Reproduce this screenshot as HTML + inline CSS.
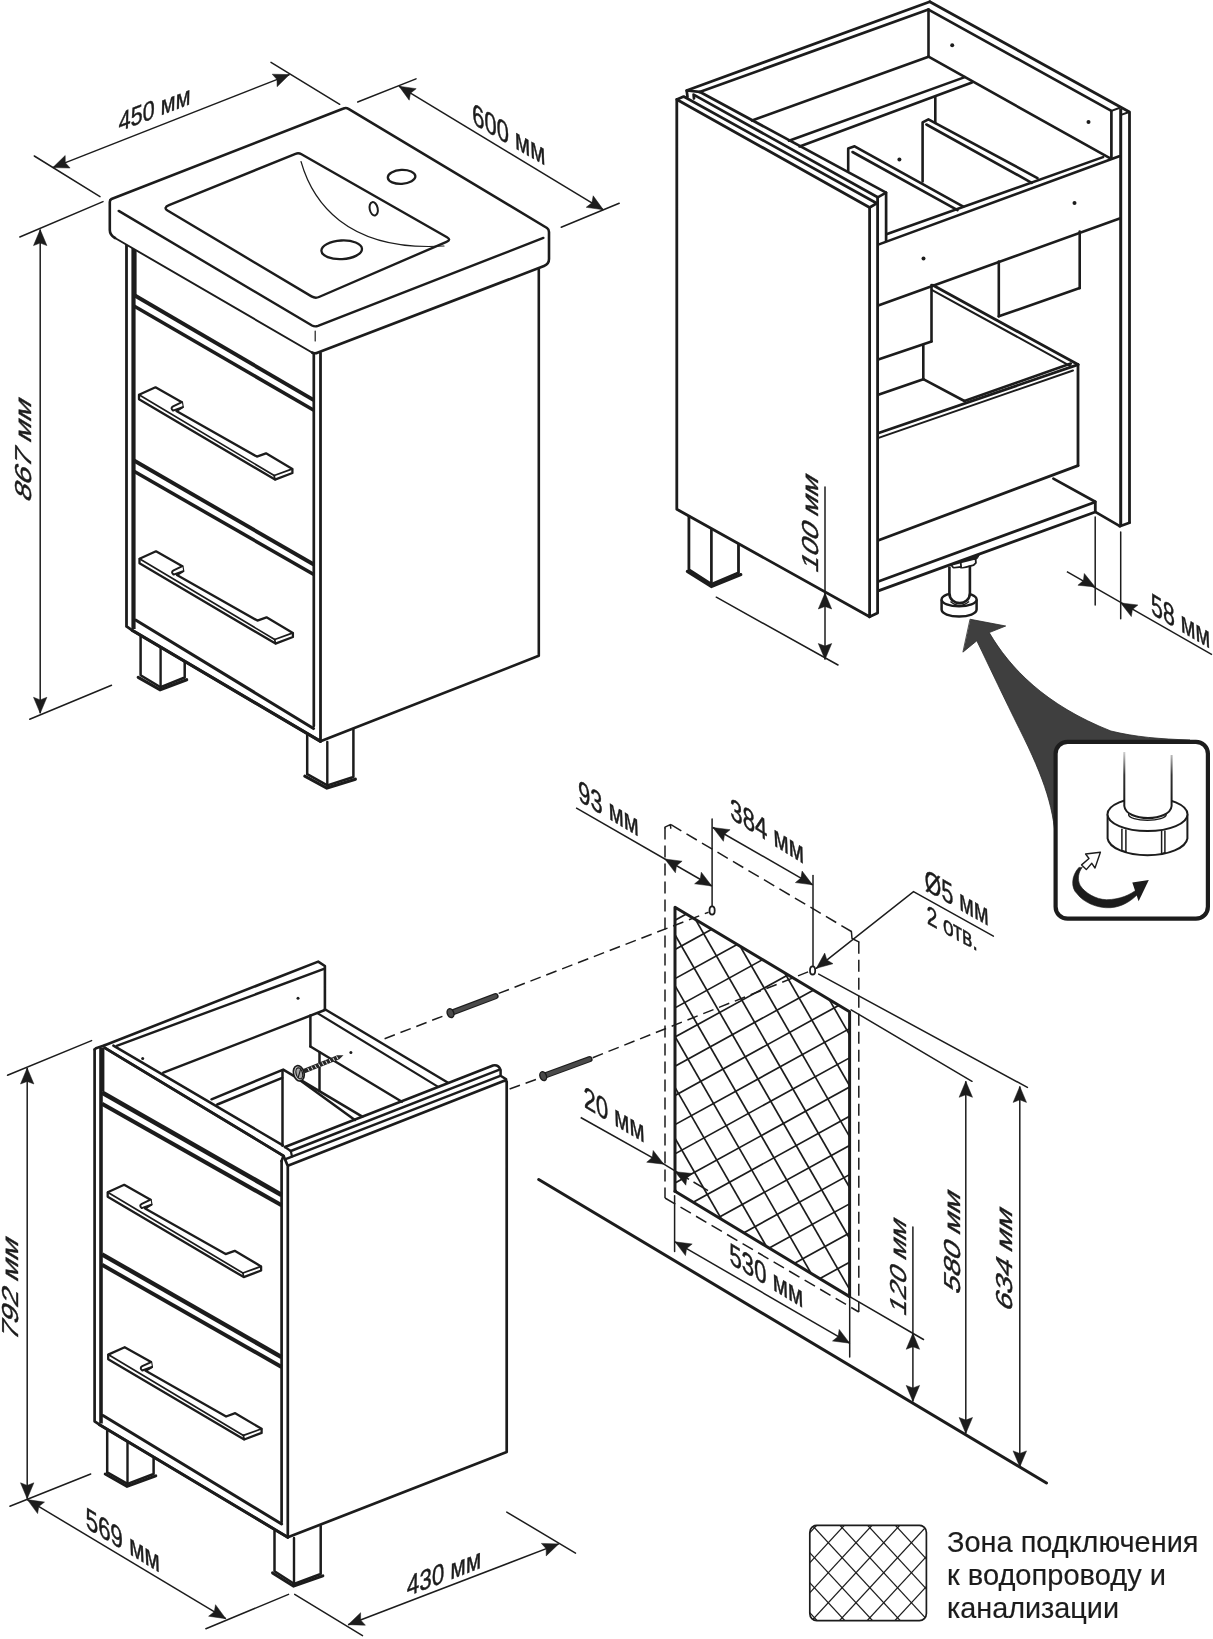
<!DOCTYPE html>
<html lang="ru"><head><meta charset="utf-8"><title>Схема монтажа тумбы</title>
<style>
html,body{margin:0;padding:0;background:#fff}
svg{display:block}
text{font-family:"Liberation Sans",sans-serif;stroke:#1c1c1c;stroke-width:0.4px}
svg{filter:grayscale(1)}
</style></head><body>
<svg width="1213" height="1639" viewBox="0 0 1213 1639">
<rect width="1213" height="1639" fill="#fff"/>
<polyline points="538.8,268 538.8,655.8 320.5,741.3" fill="none" stroke="#1c1c1c" stroke-width="2.6" stroke-linejoin="round" stroke-linecap="round"/>
<polyline points="140.6,636 140.6,675.3 160.6,687.2 184.7,677.5 184.7,662" fill="none" stroke="#1c1c1c" stroke-width="2.5" stroke-linejoin="round" stroke-linecap="round"/>
<line x1="160.6" y1="648" x2="160.6" y2="687.2" stroke="#1c1c1c" stroke-width="2.4" stroke-linecap="round"/>
<polyline points="138.2,677.3 160.1,689.8 186.7,679.7" fill="none" stroke="#1c1c1c" stroke-width="3.1" stroke-linejoin="miter" stroke-linecap="round"/>
<polyline points="307.2,735 307.2,774.2 327.3,785.4 353.4,777 353.4,729" fill="none" stroke="#1c1c1c" stroke-width="2.5" stroke-linejoin="round" stroke-linecap="round"/>
<line x1="327.3" y1="742" x2="327.3" y2="785.4" stroke="#1c1c1c" stroke-width="2.4" stroke-linecap="round"/>
<polyline points="304.8,776.2 326.8,788 355.4,779.2" fill="none" stroke="#1c1c1c" stroke-width="3.1" stroke-linejoin="miter" stroke-linecap="round"/>
<polyline points="126.5,244 126.5,626.4 132.3,630.4 320.5,741.3 320.5,353" fill="none" stroke="#1c1c1c" stroke-width="2.8" stroke-linejoin="round" stroke-linecap="round"/>
<line x1="134" y1="246" x2="134" y2="296" stroke="#1c1c1c" stroke-width="5.2" stroke-linecap="butt"/>
<line x1="133.5" y1="296" x2="133.5" y2="629" stroke="#1c1c1c" stroke-width="4.2" stroke-linecap="butt"/>
<line x1="313.8" y1="353" x2="313.8" y2="726" stroke="#1c1c1c" stroke-width="2.7" stroke-linecap="round"/>
<line x1="136" y1="620.2" x2="313.5" y2="728.5" stroke="#1c1c1c" stroke-width="3.1" stroke-linecap="round"/>
<line x1="132.3" y1="630.4" x2="320.5" y2="741.3" stroke="#1c1c1c" stroke-width="3.2" stroke-linecap="round"/>
<line x1="134" y1="295" x2="313.8" y2="400.1" stroke="#1c1c1c" stroke-width="3.9" stroke-linecap="butt"/>
<line x1="134" y1="306" x2="313.8" y2="410.3" stroke="#1c1c1c" stroke-width="3.5" stroke-linecap="butt"/>
<line x1="134" y1="460.5" x2="313.8" y2="564.5" stroke="#1c1c1c" stroke-width="3.9" stroke-linecap="butt"/>
<line x1="134" y1="471.3" x2="313.8" y2="574.5" stroke="#1c1c1c" stroke-width="3.5" stroke-linecap="butt"/>
<path d="M139 394.7 L155.5 387.3 L181.9 402.2 L182.7 407.1 L176.4 410.9 L256.9 456.6 L266 453.3 L292.4 468.9 L292.4 473 L275 479.6 L139 399.3 Z" fill="#fff" stroke="#1c1c1c" stroke-width="2.3" stroke-linejoin="round" stroke-linecap="round" />
<path d="M181.9 402.2 L173.1 406.3 Q170 408.2 173.1 410.6 L182.7 407.1" fill="#fff" stroke="#1c1c1c" stroke-width="2.0" stroke-linejoin="round" stroke-linecap="round" />
<line x1="139" y1="394.7" x2="274.2" y2="475.5" stroke="#1c1c1c" stroke-width="1.7" stroke-linecap="round"/>
<line x1="274.2" y1="475.5" x2="292.4" y2="468.9" stroke="#1c1c1c" stroke-width="1.7" stroke-linecap="round"/>
<line x1="274.2" y1="475.5" x2="275" y2="479.6" stroke="#1c1c1c" stroke-width="1.7" stroke-linecap="round"/>
<path d="M139.5 558.7 L156 551.3 L182.4 566.2 L183.2 571.1 L176.9 574.9 L257.4 620.6 L266.5 617.3 L292.9 632.9 L292.9 637 L275.5 643.6 L139.5 563.3 Z" fill="#fff" stroke="#1c1c1c" stroke-width="2.3" stroke-linejoin="round" stroke-linecap="round" />
<path d="M182.4 566.2 L173.6 570.3 Q170.5 572.2 173.6 574.6 L183.2 571.1" fill="#fff" stroke="#1c1c1c" stroke-width="2.0" stroke-linejoin="round" stroke-linecap="round" />
<line x1="139.5" y1="558.7" x2="274.7" y2="639.5" stroke="#1c1c1c" stroke-width="1.7" stroke-linecap="round"/>
<line x1="274.7" y1="639.5" x2="292.9" y2="632.9" stroke="#1c1c1c" stroke-width="1.7" stroke-linecap="round"/>
<line x1="274.7" y1="639.5" x2="275.5" y2="643.6" stroke="#1c1c1c" stroke-width="1.7" stroke-linecap="round"/>
<path d="M111.5 199 L343.5 108.5 Q346 107.3 348.5 108.8 L547 228 Q549 229.4 549 232 L549 259 Q549 264 544 266 L318 352.5 Q314.8 354 312 352.5 L115 238 Q109.8 235 109.8 230 L109.8 202 Q109.8 199.8 111.5 199 Z" fill="#fff" stroke="#fff" stroke-width="0.1" stroke-linejoin="round" stroke-linecap="round" />
<path d="M115 238 Q109.8 235 109.8 230 L109.8 202 Q109.8 199.8 111.5 199 L343.5 108.5 Q346 107.3 348.5 108.8 L547 228 Q549 229.4 549 232 L549 259 Q549 264 544 266 L318 352.5 Q314.8 354 312 352.5" fill="none" stroke="#1c1c1c" stroke-width="2.6" stroke-linejoin="round" stroke-linecap="round" />
<path d="M312 352.5 L115 238" fill="none" stroke="#1c1c1c" stroke-width="1.9" stroke-linejoin="round" stroke-linecap="round" />
<path d="M118.7 210.9 L312 325.5 Q314.8 327 318 325.9 L543.4 237.9" fill="none" stroke="#1c1c1c" stroke-width="2.4" stroke-linejoin="round" stroke-linecap="round" />
<line x1="315.2" y1="331" x2="315.2" y2="341" stroke="#1c1c1c" stroke-width="1.2" stroke-linecap="round"/>
<path d="M169 205.2 L295.5 153.8 Q298.6 152.6 301.5 154.3 L447 237.2 Q451.5 239.8 446.5 241.8 L319 297 Q315.3 298.6 311.5 296.4 L167.5 210.5 Q163 207.6 169 205.2 Z" fill="none" stroke="#1c1c1c" stroke-width="2.4" stroke-linejoin="round" stroke-linecap="round" />
<path d="M301 161.5 C 312 200, 345 252, 444 246" fill="none" stroke="#1c1c1c" stroke-width="1.2" stroke-linejoin="round" stroke-linecap="round" />
<ellipse cx="341.7" cy="249.8" rx="20.3" ry="9.3" fill="none" stroke="#1c1c1c" stroke-width="2.3" transform="rotate(-3 341.7 249.8)"/>
<ellipse cx="401.6" cy="176.9" rx="13.8" ry="7" fill="none" stroke="#1c1c1c" stroke-width="2.3" transform="rotate(-3 401.6 176.9)"/>
<ellipse cx="373.7" cy="208.8" rx="4" ry="6.8" fill="none" stroke="#1c1c1c" stroke-width="2" transform="rotate(-12 373.7 208.8)"/>
<line x1="34.3" y1="156" x2="100" y2="196.6" stroke="#1c1c1c" stroke-width="1.5" stroke-linecap="round"/>
<line x1="271" y1="62.4" x2="339.7" y2="104.3" stroke="#1c1c1c" stroke-width="1.5" stroke-linecap="round"/>
<line x1="52.8" y1="167.6" x2="289.5" y2="74.6" stroke="#1c1c1c" stroke-width="1.5" stroke-linecap="butt"/>
<polygon points="52.8,167.6 65.2,155.5 65.3,162.7 70.1,168" fill="#1c1c1c" stroke="#1c1c1c" stroke-width="0.5"/>
<polygon points="289.5,74.6 277.1,86.7 277,79.5 272.2,74.2" fill="#1c1c1c" stroke="#1c1c1c" stroke-width="0.5"/>
<text transform="matrix(0.904 -0.351 -0.020 1.120 118.4 131.8)" font-size="24" text-anchor="start" fill="#1c1c1c">450 мм</text>
<line x1="357.7" y1="102" x2="416" y2="78.9" stroke="#1c1c1c" stroke-width="1.5" stroke-linecap="round"/>
<line x1="561.2" y1="227.3" x2="619.2" y2="203.2" stroke="#1c1c1c" stroke-width="1.5" stroke-linecap="round"/>
<line x1="399" y1="86.2" x2="603.4" y2="209.8" stroke="#1c1c1c" stroke-width="1.5" stroke-linecap="butt"/>
<polygon points="399,86.2 416.2,88.7 410.5,93.2 409.2,100.2" fill="#1c1c1c" stroke="#1c1c1c" stroke-width="0.5"/>
<polygon points="603.4,209.8 586.2,207.3 591.9,202.8 593.2,195.8" fill="#1c1c1c" stroke="#1c1c1c" stroke-width="0.5"/>
<text transform="matrix(0.918 0.530 0.044 1.269 472.5 123.5)" font-size="24" text-anchor="start" fill="#1c1c1c">600 мм</text>
<line x1="103" y1="201.6" x2="19.8" y2="237" stroke="#1c1c1c" stroke-width="1.5" stroke-linecap="round"/>
<line x1="29.7" y1="719.2" x2="111.5" y2="685.2" stroke="#1c1c1c" stroke-width="1.5" stroke-linecap="round"/>
<line x1="40.2" y1="229.6" x2="40.2" y2="713.3" stroke="#1c1c1c" stroke-width="1.5" stroke-linecap="butt"/>
<polygon points="40.2,229.6 46.9,245.6 40.2,243 33.5,245.6" fill="#1c1c1c" stroke="#1c1c1c" stroke-width="0.5"/>
<polygon points="40.2,713.3 33.5,697.3 40.2,699.9 46.9,697.3" fill="#1c1c1c" stroke="#1c1c1c" stroke-width="0.5"/>
<text transform="matrix(0 -1.27 0.96 0.577 31.3 453)" font-size="24" text-anchor="middle" fill="#1c1c1c">867 мм</text>
<polyline points="688.9,516 688.9,569.8 711.4,584.2 738.5,572.7 738.5,543.7" fill="none" stroke="#1c1c1c" stroke-width="2.8" stroke-linejoin="round" stroke-linecap="round"/>
<line x1="711.4" y1="528.6" x2="711.4" y2="584.2" stroke="#1c1c1c" stroke-width="2.7" stroke-linecap="round"/>
<polyline points="687.3,571.4 711.4,586.6 740.9,574.5" fill="none" stroke="#1c1c1c" stroke-width="3.0" stroke-linejoin="miter" stroke-linecap="round"/>
<polygon points="676.8,509.2 676.8,99.5 869.6,207.5 869.6,616.8" fill="#fff" stroke="#1c1c1c" stroke-width="2.8" stroke-linejoin="round" stroke-linecap="round"/>
<polyline points="676.8,99.5 683.7,96.5 876.7,203.3 869.6,207.5" fill="none" stroke="#1c1c1c" stroke-width="2.7" stroke-linejoin="round" stroke-linecap="round"/>
<polyline points="877.6,197.5 877.6,613 869.6,616.8" fill="none" stroke="#1c1c1c" stroke-width="2.8" stroke-linejoin="round" stroke-linecap="round"/>
<polyline points="694,98.5 693.6,94.6 877.7,197.3" fill="none" stroke="#1c1c1c" stroke-width="2.7" stroke-linejoin="round" stroke-linecap="round"/>
<polyline points="687.5,97 686.7,90.5 699.6,91.8 886.1,192.6 886.1,241" fill="none" stroke="#1c1c1c" stroke-width="2.7" stroke-linejoin="round" stroke-linecap="round"/>
<line x1="877.7" y1="197.3" x2="886.1" y2="192.6" stroke="#1c1c1c" stroke-width="2.5" stroke-linecap="round"/>
<line x1="686.7" y1="90.5" x2="929.8" y2="1.8" stroke="#1c1c1c" stroke-width="2.8" stroke-linecap="round"/>
<line x1="699.6" y1="92" x2="928.5" y2="9.6" stroke="#1c1c1c" stroke-width="2.7" stroke-linecap="round"/>
<polyline points="929.8,1.8 1129.5,111.9 1129.5,522.7" fill="none" stroke="#1c1c1c" stroke-width="2.8" stroke-linejoin="round" stroke-linecap="round"/>
<polyline points="928.5,9.6 1111.4,110.9 1111.4,157.5" fill="none" stroke="#1c1c1c" stroke-width="2.7" stroke-linejoin="round" stroke-linecap="round"/>
<line x1="1111.4" y1="110.9" x2="1119.2" y2="108" stroke="#1c1c1c" stroke-width="2" stroke-linecap="round"/>
<line x1="1120.7" y1="108.5" x2="1120.7" y2="526" stroke="#1c1c1c" stroke-width="3.0" stroke-linecap="butt"/>
<line x1="1121.7" y1="114.6" x2="1128.5" y2="112.2" stroke="#1c1c1c" stroke-width="2" stroke-linecap="round"/>
<line x1="928.5" y1="9.6" x2="928.5" y2="56.7" stroke="#1c1c1c" stroke-width="2.6" stroke-linecap="round"/>
<line x1="928.5" y1="56.7" x2="752" y2="120.5" stroke="#1c1c1c" stroke-width="2.6" stroke-linecap="round"/>
<line x1="928.5" y1="56.7" x2="1109.4" y2="157.9" stroke="#1c1c1c" stroke-width="2.6" stroke-linecap="round"/>
<line x1="964.8" y1="77.1" x2="789" y2="140.7" stroke="#1c1c1c" stroke-width="2.6" stroke-linecap="round"/>
<line x1="972" y1="82.5" x2="799.6" y2="146.5" stroke="#1c1c1c" stroke-width="2.6" stroke-linecap="round"/>
<line x1="935.3" y1="97.4" x2="935.3" y2="123" stroke="#1c1c1c" stroke-width="2.6" stroke-linecap="round"/>
<polyline points="848.2,171 848.2,148.5 854.6,146.3 963.3,206.6" fill="none" stroke="#1c1c1c" stroke-width="2.6" stroke-linejoin="round" stroke-linecap="round"/>
<line x1="852.5" y1="152" x2="957.5" y2="210.1" stroke="#1c1c1c" stroke-width="2.6" stroke-linecap="round"/>
<polyline points="922.6,181.5 922.6,122.4 928.4,119.3 1037.5,178.1" fill="none" stroke="#1c1c1c" stroke-width="2.6" stroke-linejoin="round" stroke-linecap="round"/>
<line x1="926.4" y1="124.5" x2="1031.7" y2="182.8" stroke="#1c1c1c" stroke-width="2.6" stroke-linecap="round"/>
<line x1="886.4" y1="234.2" x2="1103" y2="157.1" stroke="#1c1c1c" stroke-width="2.6" stroke-linecap="round"/>
<line x1="878.9" y1="244.4" x2="1119.2" y2="156.3" stroke="#1c1c1c" stroke-width="2.6" stroke-linecap="round"/>
<line x1="878.9" y1="305.2" x2="1119.6" y2="218.5" stroke="#1c1c1c" stroke-width="2.6" stroke-linecap="round"/>
<circle cx="952.2" cy="45.3" r="2.0" fill="#1c1c1c"/>
<circle cx="1088.5" cy="122.1" r="2.0" fill="#1c1c1c"/>
<circle cx="899.4" cy="159.4" r="2.0" fill="#1c1c1c"/>
<circle cx="1074.5" cy="203.1" r="2.0" fill="#1c1c1c"/>
<circle cx="923.5" cy="258.6" r="2.0" fill="#1c1c1c"/>
<line x1="931.5" y1="285" x2="931.5" y2="341.5" stroke="#1c1c1c" stroke-width="2.6" stroke-linecap="round"/>
<line x1="879" y1="359.3" x2="931.5" y2="341.5" stroke="#1c1c1c" stroke-width="2.6" stroke-linecap="round"/>
<line x1="923.3" y1="345" x2="923.3" y2="379.2" stroke="#1c1c1c" stroke-width="2.6" stroke-linecap="round"/>
<line x1="879" y1="394.6" x2="923.3" y2="379.2" stroke="#1c1c1c" stroke-width="2.6" stroke-linecap="round"/>
<line x1="923.3" y1="379.2" x2="964.4" y2="401" stroke="#1c1c1c" stroke-width="2.6" stroke-linecap="round"/>
<line x1="998.8" y1="261.5" x2="998.8" y2="316.3" stroke="#1c1c1c" stroke-width="2.6" stroke-linecap="round"/>
<line x1="998.8" y1="316.3" x2="1079.7" y2="288.1" stroke="#1c1c1c" stroke-width="2.6" stroke-linecap="round"/>
<line x1="1079.7" y1="231.5" x2="1079.7" y2="288.1" stroke="#1c1c1c" stroke-width="2.6" stroke-linecap="round"/>
<line x1="933" y1="285.3" x2="1078" y2="364.6" stroke="#1c1c1c" stroke-width="2.8" stroke-linecap="round"/>
<line x1="931.7" y1="289.8" x2="1070.8" y2="366.3" stroke="#1c1c1c" stroke-width="2" stroke-linecap="round"/>
<line x1="879.3" y1="432.8" x2="1078" y2="364.6" stroke="#1c1c1c" stroke-width="2.8" stroke-linecap="round"/>
<line x1="879.3" y1="437.6" x2="1073" y2="370.5" stroke="#1c1c1c" stroke-width="2" stroke-linecap="round"/>
<line x1="964.4" y1="401" x2="1070.8" y2="363.5" stroke="#1c1c1c" stroke-width="2.6" stroke-linecap="round"/>
<line x1="1078" y1="364.6" x2="1078" y2="465.6" stroke="#1c1c1c" stroke-width="2.8" stroke-linecap="round"/>
<line x1="879.3" y1="540" x2="1078" y2="465.6" stroke="#1c1c1c" stroke-width="2.8" stroke-linecap="round"/>
<polyline points="878.9,581.3 1095.3,502 1095.3,512 878.9,590.6" fill="none" stroke="#1c1c1c" stroke-width="2.8" stroke-linejoin="round" stroke-linecap="round"/>
<line x1="1053.4" y1="478.6" x2="1095.3" y2="501.7" stroke="#1c1c1c" stroke-width="2.7" stroke-linecap="round"/>
<polyline points="1119.8,526.2 1129.5,522.7" fill="none" stroke="#1c1c1c" stroke-width="2.7" stroke-linejoin="round" stroke-linecap="round"/>
<line x1="1119.8" y1="526.2" x2="1095.3" y2="511.8" stroke="#1c1c1c" stroke-width="2.7" stroke-linecap="round"/>
<polygon points="961.9,560.4 979.8,554 977.3,558.5 971.2,561.4" fill="#1c1c1c" stroke="#1c1c1c" stroke-width="1"/>
<path d="M951.2 565 L960.6 562.4 L975.6 558.6 L975.9 562.8 L973.6 565.2 L961.3 568.4 L960.8 566.8 L953.6 568 Z" fill="#fff" stroke="#1c1c1c" stroke-width="1.8" stroke-linejoin="round"/>
<line x1="960.7" y1="562.6" x2="961.2" y2="568" stroke="#1c1c1c" stroke-width="1.8" stroke-linecap="round"/>
<path d="M941.6 599.6 L941.6 609.6 A17.5 7 0 0 0 976.6 609.6 L976.6 599.6" fill="#fff" stroke="#1c1c1c" stroke-width="2.5"/>
<ellipse cx="959.1" cy="599.5" rx="17.5" ry="6.9" fill="#fff" stroke="#1c1c1c" stroke-width="2.4"/>
<path d="M949.4 568.5 L949.4 593 C949.4 606.5 969.9 606.5 969.9 593 L969.9 568.5 Z" fill="#fff" stroke="none"/>
<path d="M949.4 566.5 L949.4 593 C949.4 606.5 969.9 606.5 969.9 593 L969.9 565.5" fill="none" stroke="#1c1c1c" stroke-width="2.6"/>
<path d="M950.5 601.5 Q959.5 609.5 969 601.5" fill="none" stroke="#1c1c1c" stroke-width="1.6"/>
<line x1="825" y1="487" x2="825" y2="593" stroke="#1c1c1c" stroke-width="1.5" stroke-linecap="round"/>
<line x1="825" y1="593" x2="825" y2="659.5" stroke="#1c1c1c" stroke-width="1.5" stroke-linecap="butt"/>
<polygon points="825,593 831.7,609 825,606.4 818.3,609" fill="#1c1c1c" stroke="#1c1c1c" stroke-width="0.5"/>
<polygon points="825,659.5 818.3,643.5 825,646.1 831.7,643.5" fill="#1c1c1c" stroke="#1c1c1c" stroke-width="0.5"/>
<line x1="716.3" y1="597.2" x2="838" y2="665" stroke="#1c1c1c" stroke-width="1.5" stroke-linecap="round"/>
<text transform="matrix(0 -1.2 0.96 0.577 818 526.5)" font-size="24" text-anchor="middle" fill="#1c1c1c">100 мм</text>
<line x1="1095.2" y1="517" x2="1095.2" y2="605" stroke="#1c1c1c" stroke-width="1.5" stroke-linecap="round"/>
<line x1="1120.7" y1="532" x2="1120.7" y2="618.7" stroke="#1c1c1c" stroke-width="1.5" stroke-linecap="round"/>
<line x1="1066.9" y1="571.6" x2="1212" y2="654.7" stroke="#1c1c1c" stroke-width="1.5" stroke-linecap="butt"/>
<polygon points="1095.2,587 1077.9,585.2 1083.4,580.6 1084.3,573.5" fill="#1c1c1c" stroke="#1c1c1c" stroke-width="0.5"/>
<polygon points="1120.7,602.9 1137.9,605 1132.4,609.5 1131.3,616.6" fill="#1c1c1c" stroke="#1c1c1c" stroke-width="0.5"/>
<text transform="matrix(0.891 0.536 0.044 1.269 1151.3 613.4)" font-size="24" text-anchor="start" fill="#1c1c1c">58 мм</text>
<path d="M970.4 619.3 L1005.7 626 L989.2 632.6 C1010 668,1045 705,1110.9 731 C1135 737,1160 739,1190 740 L1056 850 C1055 810,1045 780,1019.3 728.6 C1005 700,990 668,976.8 640.8 L963.2 651.9 Z" fill="#3f3f3f" stroke="#2a2a2a" stroke-width="0.8" stroke-linejoin="round" stroke-linecap="round" />
<rect x="1055.6" y="741.8" width="152.3" height="176.9" rx="12" ry="12" fill="#fff" stroke="#1c1c1c" stroke-width="4.2"/>
<defs><linearGradient id="fade" gradientUnits="userSpaceOnUse" x1="0" y1="750" x2="0" y2="800"><stop offset="0" stop-color="#1c1c1c" stop-opacity="0.15"/><stop offset="0.5" stop-color="#1c1c1c" stop-opacity="0.9"/><stop offset="1" stop-color="#1c1c1c"/></linearGradient></defs>
<path d="M1107.6 814.3 L1107.6 838.5 A40 18 0 0 0 1187.4 838.5 L1187.4 814.3" fill="#fff" stroke="#1c1c1c" stroke-width="2"/>
<ellipse cx="1147.5" cy="814.3" rx="40" ry="16.8" fill="#fff" stroke="#1c1c1c" stroke-width="2"/>
<ellipse cx="1147.4" cy="814.5" rx="18.8" ry="5.8" fill="#fff" stroke="#1c1c1c" stroke-width="1.4"/>
<path d="M1124.3 752 L1124.3 806 C1126 822 1170 822 1171.6 806 L1171.6 755 Z" fill="#fff" stroke="none"/>
<path d="M1124.3 752 L1124.3 806 C1126 822 1170 822 1171.6 806 L1171.6 755" fill="none" stroke="url(#fade)" stroke-width="2"/>
<line x1="1121.9" y1="829.3" x2="1121.9" y2="850.6" stroke="#1c1c1c" stroke-width="1.5" stroke-linecap="round"/>
<line x1="1125.9" y1="830" x2="1125.9" y2="852" stroke="#1c1c1c" stroke-width="1.5" stroke-linecap="round"/>
<line x1="1161.6" y1="831.5" x2="1161.6" y2="853.6" stroke="#1c1c1c" stroke-width="1.5" stroke-linecap="round"/>
<line x1="1164.9" y1="831" x2="1164.9" y2="853" stroke="#1c1c1c" stroke-width="1.5" stroke-linecap="round"/>
<line x1="1121.9" y1="850.6" x2="1125.9" y2="851.6" stroke="#1c1c1c" stroke-width="1.4" stroke-linecap="round"/>
<line x1="1161.6" y1="853.6" x2="1164.9" y2="852.6" stroke="#1c1c1c" stroke-width="1.4" stroke-linecap="round"/>
<path d="M1078.9 867.4 C1071 876 1071 888 1076.9 893.6 C1084 903 1098 908.5 1110.5 907.7 C1122 907 1131 901 1138 894 L1137.4 889 C1130 895 1120 899.5 1106.5 899.7 C1096 899.5 1085 893 1080.2 885.5 C1077 879 1078.5 872 1082.3 867.4 Z" fill="#1c1c1c" stroke="#1c1c1c" stroke-width="0.6"/>
<polygon points="1148.8,879.9 1132.3,882.4 1138.6,901.2" fill="#1c1c1c"/>
<polygon points="1100.4,852.2 1085.6,854 1089,858.5 1081.6,864.9 1086.3,869.6 1091.8,863.3 1095,868" fill="#fff" stroke="#1c1c1c" stroke-width="1.4" stroke-linejoin="round"/>
<polyline points="107.2,1430 107.2,1472.4 127.5,1483.9 153.6,1474 153.6,1458" fill="none" stroke="#1c1c1c" stroke-width="2.5" stroke-linejoin="round" stroke-linecap="round"/>
<line x1="127.5" y1="1442" x2="127.5" y2="1483.9" stroke="#1c1c1c" stroke-width="2.4" stroke-linecap="round"/>
<polyline points="105.2,1474 127,1486.3 155.8,1475.8" fill="none" stroke="#1c1c1c" stroke-width="2.9" stroke-linejoin="miter" stroke-linecap="round"/>
<polyline points="274.5,1531 274.5,1571.3 294,1583.8 320.7,1574 320.7,1526" fill="none" stroke="#1c1c1c" stroke-width="2.5" stroke-linejoin="round" stroke-linecap="round"/>
<line x1="294" y1="1538" x2="294" y2="1583.8" stroke="#1c1c1c" stroke-width="2.4" stroke-linecap="round"/>
<polyline points="272.5,1572.9 293.5,1586.2 322.9,1575.8" fill="none" stroke="#1c1c1c" stroke-width="2.9" stroke-linejoin="miter" stroke-linecap="round"/>
<polyline points="287.8,1165.8 504.9,1080.5 506.7,1081.5 506.7,1452.1 287.8,1537.3" fill="#fff" stroke="#1c1c1c" stroke-width="2.7" stroke-linejoin="round" stroke-linecap="round"/>
<path d="M284.9 1147 L493 1065.5 Q498.5 1064.5 500.6 1070 L500.6 1075.7 L506.2 1079.3" fill="none" stroke="#1c1c1c" stroke-width="2.5" stroke-linejoin="round" stroke-linecap="round" />
<line x1="290.8" y1="1151" x2="498.9" y2="1069.8" stroke="#1c1c1c" stroke-width="2.5" stroke-linecap="round"/>
<line x1="286.2" y1="1158.9" x2="499.6" y2="1076.1" stroke="#1c1c1c" stroke-width="2.5" stroke-linecap="round"/>
<polyline points="283.5,1162.2 287.8,1165.8" fill="none" stroke="#1c1c1c" stroke-width="2.2" stroke-linejoin="round" stroke-linecap="round"/>
<polyline points="290.8,1151 292,1156.5" fill="none" stroke="#1c1c1c" stroke-width="2.2" stroke-linejoin="round" stroke-linecap="round"/>
<polyline points="284.9,1147 290.8,1151" fill="none" stroke="#1c1c1c" stroke-width="2.2" stroke-linejoin="round" stroke-linecap="round"/>
<polyline points="94.6,1049.5 94.6,1421.3 99.5,1424.7 287.8,1537.3 287.8,1166 283.5,1155.8 104.8,1047.9" fill="#fff" stroke="#1c1c1c" stroke-width="2.7" stroke-linejoin="round" stroke-linecap="round"/>
<line x1="101.8" y1="1047.5" x2="101.8" y2="1091" stroke="#1c1c1c" stroke-width="5.2" stroke-linecap="butt"/>
<line x1="101" y1="1091" x2="101" y2="1423.5" stroke="#1c1c1c" stroke-width="3.6" stroke-linecap="butt"/>
<line x1="281.6" y1="1161" x2="281.6" y2="1522" stroke="#1c1c1c" stroke-width="2.7" stroke-linecap="round"/>
<line x1="103" y1="1415.5" x2="281.6" y2="1524" stroke="#1c1c1c" stroke-width="3.0" stroke-linecap="round"/>
<line x1="99.5" y1="1424.7" x2="287.8" y2="1537.3" stroke="#1c1c1c" stroke-width="3.0" stroke-linecap="round"/>
<polyline points="94.6,1049.5 96,1048.3 104.8,1045.2" fill="none" stroke="#1c1c1c" stroke-width="2.6" stroke-linejoin="round" stroke-linecap="round"/>
<polyline points="104.8,1047.9 283.5,1155.8 281.6,1161" fill="none" stroke="#1c1c1c" stroke-width="2.6" stroke-linejoin="round" stroke-linecap="round"/>
<line x1="113.4" y1="1045.6" x2="282.9" y2="1145.4" stroke="#1c1c1c" stroke-width="2.5" stroke-linecap="round"/>
<line x1="102" y1="1092.5" x2="281.6" y2="1195" stroke="#1c1c1c" stroke-width="4.7" stroke-linecap="butt"/>
<line x1="102" y1="1103.8" x2="281.6" y2="1205.3" stroke="#1c1c1c" stroke-width="4.1" stroke-linecap="butt"/>
<line x1="102" y1="1254.3" x2="281.6" y2="1357.2" stroke="#1c1c1c" stroke-width="4.4" stroke-linecap="butt"/>
<line x1="102" y1="1264.8" x2="281.6" y2="1367" stroke="#1c1c1c" stroke-width="3.9" stroke-linecap="butt"/>
<path d="M107.7 1192.2 L124.2 1184.8 L150.6 1199.7 L151.4 1204.6 L145.1 1208.4 L225.6 1254.1 L234.7 1250.8 L261.1 1266.4 L261.1 1270.5 L243.7 1277.1 L107.7 1196.8 Z" fill="#fff" stroke="#1c1c1c" stroke-width="2.3" stroke-linejoin="round" stroke-linecap="round" />
<path d="M150.6 1199.7 L141.8 1203.8 Q138.7 1205.7 141.8 1208.1 L151.4 1204.6" fill="#fff" stroke="#1c1c1c" stroke-width="2.0" stroke-linejoin="round" stroke-linecap="round" />
<line x1="107.7" y1="1192.2" x2="242.9" y2="1273" stroke="#1c1c1c" stroke-width="1.7" stroke-linecap="round"/>
<line x1="242.9" y1="1273" x2="261.1" y2="1266.4" stroke="#1c1c1c" stroke-width="1.7" stroke-linecap="round"/>
<line x1="242.9" y1="1273" x2="243.7" y2="1277.1" stroke="#1c1c1c" stroke-width="1.7" stroke-linecap="round"/>
<path d="M108.2 1354.6 L124.7 1347.2 L151.1 1362.1 L151.9 1367 L145.6 1370.8 L226.1 1416.5 L235.2 1413.2 L261.6 1428.8 L261.6 1432.9 L244.2 1439.5 L108.2 1359.2 Z" fill="#fff" stroke="#1c1c1c" stroke-width="2.3" stroke-linejoin="round" stroke-linecap="round" />
<path d="M151.1 1362.1 L142.3 1366.2 Q139.2 1368.1 142.3 1370.5 L151.9 1367" fill="#fff" stroke="#1c1c1c" stroke-width="2.0" stroke-linejoin="round" stroke-linecap="round" />
<line x1="108.2" y1="1354.6" x2="243.4" y2="1435.4" stroke="#1c1c1c" stroke-width="1.7" stroke-linecap="round"/>
<line x1="243.4" y1="1435.4" x2="261.6" y2="1428.8" stroke="#1c1c1c" stroke-width="1.7" stroke-linecap="round"/>
<line x1="243.4" y1="1435.4" x2="244.2" y2="1439.5" stroke="#1c1c1c" stroke-width="1.7" stroke-linecap="round"/>
<polyline points="104.8,1045.2 318.2,961.6 324.9,966 324.9,1009.2" fill="none" stroke="#1c1c1c" stroke-width="2.6" stroke-linejoin="round" stroke-linecap="round"/>
<line x1="116.7" y1="1045.9" x2="324" y2="968.9" stroke="#1c1c1c" stroke-width="2.4" stroke-linecap="round"/>
<line x1="324.9" y1="1010" x2="163.3" y2="1072.7" stroke="#1c1c1c" stroke-width="2.5" stroke-linecap="round"/>
<line x1="310.4" y1="1015.6" x2="310.4" y2="1046.5" stroke="#1c1c1c" stroke-width="2.5" stroke-linecap="round"/>
<line x1="319.5" y1="1052.5" x2="319.5" y2="1090.5" stroke="#1c1c1c" stroke-width="2.5" stroke-linecap="round"/>
<line x1="324.9" y1="1009.2" x2="448.1" y2="1082.8" stroke="#1c1c1c" stroke-width="2.4" stroke-linecap="round"/>
<line x1="318.2" y1="1013.6" x2="438.2" y2="1086.9" stroke="#1c1c1c" stroke-width="2.2" stroke-linecap="round"/>
<polyline points="211.5,1099.3 283.2,1069.6 362.3,1116.6" fill="none" stroke="#1c1c1c" stroke-width="2.5" stroke-linejoin="round" stroke-linecap="round"/>
<line x1="217.3" y1="1104.5" x2="282.2" y2="1077.9" stroke="#1c1c1c" stroke-width="2.5" stroke-linecap="round"/>
<line x1="282.5" y1="1070.4" x2="282.5" y2="1145.7" stroke="#1c1c1c" stroke-width="2.5" stroke-linecap="round"/>
<line x1="299" y1="1079.5" x2="354.9" y2="1119.9" stroke="#1c1c1c" stroke-width="2.5" stroke-linecap="round"/>
<line x1="310.4" y1="1046.5" x2="401.9" y2="1101.7" stroke="#1c1c1c" stroke-width="2.5" stroke-linecap="round"/>
<circle cx="298" cy="998.3" r="1.5" fill="#1c1c1c"/>
<circle cx="142.7" cy="1058.5" r="1.5" fill="#1c1c1c"/>
<circle cx="350.9" cy="1052.5" r="1.5" fill="#1c1c1c"/>
<line x1="304" y1="1071.2" x2="337.5" y2="1057.6" stroke="#262626" stroke-width="4.6" stroke-linecap="butt"/>
<polygon points="336.5,1055.3 343.5,1055.2 338.5,1060" fill="#262626"/>
<line x1="307.7" y1="1068" x2="309.3" y2="1071.1" stroke="#e8e8e8" stroke-width="1.0" stroke-linecap="butt"/>
<line x1="311.3" y1="1066.5" x2="312.9" y2="1069.6" stroke="#e8e8e8" stroke-width="1.0" stroke-linecap="butt"/>
<line x1="314.9" y1="1065.1" x2="316.5" y2="1068.2" stroke="#e8e8e8" stroke-width="1.0" stroke-linecap="butt"/>
<line x1="318.5" y1="1063.6" x2="320.1" y2="1066.7" stroke="#e8e8e8" stroke-width="1.0" stroke-linecap="butt"/>
<line x1="322.1" y1="1062.2" x2="323.7" y2="1065.3" stroke="#e8e8e8" stroke-width="1.0" stroke-linecap="butt"/>
<line x1="325.7" y1="1060.7" x2="327.3" y2="1063.8" stroke="#e8e8e8" stroke-width="1.0" stroke-linecap="butt"/>
<line x1="329.3" y1="1059.2" x2="330.9" y2="1062.3" stroke="#e8e8e8" stroke-width="1.0" stroke-linecap="butt"/>
<line x1="332.9" y1="1057.8" x2="334.5" y2="1060.9" stroke="#e8e8e8" stroke-width="1.0" stroke-linecap="butt"/>
<line x1="336.5" y1="1056.3" x2="338.1" y2="1059.4" stroke="#e8e8e8" stroke-width="1.0" stroke-linecap="butt"/>
<ellipse cx="298.8" cy="1073.3" rx="5.3" ry="7.8" fill="#c9c9c9" stroke="#1c1c1c" stroke-width="1.7" transform="rotate(-14 298.8 1073.3)"/>
<ellipse cx="299.3" cy="1073.3" rx="3.2" ry="5.6" fill="#a8a8a8" stroke="#1c1c1c" stroke-width="1.2" transform="rotate(-14 299.3 1073.3)"/>
<line x1="298.2" y1="1077.5" x2="300.6" y2="1069.2" stroke="#1c1c1c" stroke-width="1.1" stroke-linecap="round"/>
<line x1="7.5" y1="1075.2" x2="91.6" y2="1040.6" stroke="#1c1c1c" stroke-width="1.5" stroke-linecap="round"/>
<line x1="9.9" y1="1506.3" x2="90.7" y2="1474" stroke="#1c1c1c" stroke-width="1.5" stroke-linecap="round"/>
<line x1="27.2" y1="1068" x2="27.2" y2="1498.8" stroke="#1c1c1c" stroke-width="1.5" stroke-linecap="butt"/>
<polygon points="27.2,1068 33.9,1084 27.2,1081.4 20.5,1084" fill="#1c1c1c" stroke="#1c1c1c" stroke-width="0.5"/>
<polygon points="27.2,1498.8 20.5,1482.8 27.2,1485.4 33.9,1482.8" fill="#1c1c1c" stroke="#1c1c1c" stroke-width="0.5"/>
<text transform="matrix(0 -1.27 0.96 0.577 18.3 1292)" font-size="24" text-anchor="middle" fill="#1c1c1c">792 мм</text>
<line x1="27.3" y1="1499.6" x2="225.8" y2="1618.7" stroke="#1c1c1c" stroke-width="1.5" stroke-linecap="butt"/>
<polygon points="27.3,1499.6 44.5,1502.1 38.8,1506.5 37.6,1513.6" fill="#1c1c1c" stroke="#1c1c1c" stroke-width="0.5"/>
<polygon points="225.8,1618.7 208.6,1616.2 214.3,1611.8 215.5,1604.7" fill="#1c1c1c" stroke="#1c1c1c" stroke-width="0.5"/>
<line x1="205.9" y1="1628.7" x2="288.5" y2="1594.4" stroke="#1c1c1c" stroke-width="1.5" stroke-linecap="round"/>
<text transform="matrix(0.932 0.565 0.044 1.269 86 1527.7)" font-size="24" text-anchor="start" fill="#1c1c1c">569 мм</text>
<line x1="294.7" y1="1594.4" x2="362.5" y2="1635.6" stroke="#1c1c1c" stroke-width="1.5" stroke-linecap="round"/>
<line x1="506.8" y1="1512.1" x2="575.5" y2="1553.1" stroke="#1c1c1c" stroke-width="1.5" stroke-linecap="round"/>
<line x1="348.1" y1="1624.7" x2="558.7" y2="1543.9" stroke="#1c1c1c" stroke-width="1.5" stroke-linecap="butt"/>
<polygon points="348.1,1624.7 360.6,1612.7 360.6,1619.9 365.4,1625.2" fill="#1c1c1c" stroke="#1c1c1c" stroke-width="0.5"/>
<polygon points="558.7,1543.9 546.2,1555.9 546.2,1548.7 541.4,1543.4" fill="#1c1c1c" stroke="#1c1c1c" stroke-width="0.5"/>
<text transform="matrix(0.932 -0.362 -0.021 1.200 406.8 1596.6)" font-size="24" text-anchor="start" fill="#1c1c1c">430 мм</text>
<line x1="450.5" y1="1013.2" x2="495.5" y2="996.2" stroke="#1c1c1c" stroke-width="6.2" stroke-linecap="round"/>
<line x1="451" y1="1013" x2="495.2" y2="996.3" stroke="#4a4a4a" stroke-width="4" stroke-linecap="round"/>
<ellipse cx="450.5" cy="1013.2" rx="3.2" ry="4.6" fill="#4a4a4a" stroke="#1c1c1c" stroke-width="1.4" transform="rotate(-20 450.5 1013.2)"/>
<line x1="543.2" y1="1076.2" x2="589.5" y2="1059.2" stroke="#1c1c1c" stroke-width="6.2" stroke-linecap="round"/>
<line x1="543.7" y1="1076" x2="589.2" y2="1059.3" stroke="#4a4a4a" stroke-width="4" stroke-linecap="round"/>
<ellipse cx="543.2" cy="1076.2" rx="3.2" ry="4.6" fill="#4a4a4a" stroke="#1c1c1c" stroke-width="1.4" transform="rotate(-20 543.2 1076.2)"/>
<line x1="384.6" y1="1038.7" x2="444.3" y2="1015.6" stroke="#1c1c1c" stroke-width="1.5" stroke-linecap="butt" stroke-dasharray="11 6"/>
<line x1="498.7" y1="993.4" x2="708.6" y2="912.2" stroke="#1c1c1c" stroke-width="1.5" stroke-linecap="butt" stroke-dasharray="11 6"/>
<line x1="509.6" y1="1089" x2="539.5" y2="1078.2" stroke="#1c1c1c" stroke-width="1.5" stroke-linecap="butt" stroke-dasharray="11 6"/>
<line x1="592.7" y1="1057.7" x2="808.1" y2="971.9" stroke="#1c1c1c" stroke-width="1.5" stroke-linecap="butt" stroke-dasharray="11 6"/>
<clipPath id="hc"><polygon points="675,907.2 849.6,1011.8 849.6,1296.6 675,1191.3"/></clipPath>
<g clip-path="url(#hc)">
<line x1="660" y1="840.9" x2="860" y2="730.9" stroke="#1c1c1c" stroke-width="1.7" stroke-linecap="butt"/>
<line x1="660" y1="870.1" x2="860" y2="760.1" stroke="#1c1c1c" stroke-width="1.7" stroke-linecap="butt"/>
<line x1="660" y1="899.3" x2="860" y2="789.3" stroke="#1c1c1c" stroke-width="1.7" stroke-linecap="butt"/>
<line x1="660" y1="928.5" x2="860" y2="818.5" stroke="#1c1c1c" stroke-width="1.7" stroke-linecap="butt"/>
<line x1="660" y1="957.7" x2="860" y2="847.7" stroke="#1c1c1c" stroke-width="1.7" stroke-linecap="butt"/>
<line x1="660" y1="986.9" x2="860" y2="876.9" stroke="#1c1c1c" stroke-width="1.7" stroke-linecap="butt"/>
<line x1="660" y1="1016.1" x2="860" y2="906.1" stroke="#1c1c1c" stroke-width="1.7" stroke-linecap="butt"/>
<line x1="660" y1="1045.3" x2="860" y2="935.3" stroke="#1c1c1c" stroke-width="1.7" stroke-linecap="butt"/>
<line x1="660" y1="1074.5" x2="860" y2="964.5" stroke="#1c1c1c" stroke-width="1.7" stroke-linecap="butt"/>
<line x1="660" y1="1103.7" x2="860" y2="993.7" stroke="#1c1c1c" stroke-width="1.7" stroke-linecap="butt"/>
<line x1="660" y1="1132.9" x2="860" y2="1022.9" stroke="#1c1c1c" stroke-width="1.7" stroke-linecap="butt"/>
<line x1="660" y1="1162.1" x2="860" y2="1052.1" stroke="#1c1c1c" stroke-width="1.7" stroke-linecap="butt"/>
<line x1="660" y1="1191.3" x2="860" y2="1081.3" stroke="#1c1c1c" stroke-width="1.7" stroke-linecap="butt"/>
<line x1="660" y1="1220.5" x2="860" y2="1110.5" stroke="#1c1c1c" stroke-width="1.7" stroke-linecap="butt"/>
<line x1="660" y1="1249.7" x2="860" y2="1139.7" stroke="#1c1c1c" stroke-width="1.7" stroke-linecap="butt"/>
<line x1="660" y1="1278.9" x2="860" y2="1168.9" stroke="#1c1c1c" stroke-width="1.7" stroke-linecap="butt"/>
<line x1="660" y1="1308.1" x2="860" y2="1198.1" stroke="#1c1c1c" stroke-width="1.7" stroke-linecap="butt"/>
<line x1="660" y1="1337.3" x2="860" y2="1227.3" stroke="#1c1c1c" stroke-width="1.7" stroke-linecap="butt"/>
<line x1="660" y1="1366.5" x2="860" y2="1256.5" stroke="#1c1c1c" stroke-width="1.7" stroke-linecap="butt"/>
<line x1="660" y1="603.2" x2="860" y2="951.2" stroke="#1c1c1c" stroke-width="1.7" stroke-linecap="butt"/>
<line x1="660" y1="654.1" x2="860" y2="1002.1" stroke="#1c1c1c" stroke-width="1.7" stroke-linecap="butt"/>
<line x1="660" y1="705" x2="860" y2="1053" stroke="#1c1c1c" stroke-width="1.7" stroke-linecap="butt"/>
<line x1="660" y1="755.9" x2="860" y2="1103.9" stroke="#1c1c1c" stroke-width="1.7" stroke-linecap="butt"/>
<line x1="660" y1="806.8" x2="860" y2="1154.8" stroke="#1c1c1c" stroke-width="1.7" stroke-linecap="butt"/>
<line x1="660" y1="857.7" x2="860" y2="1205.7" stroke="#1c1c1c" stroke-width="1.7" stroke-linecap="butt"/>
<line x1="660" y1="908.6" x2="860" y2="1256.6" stroke="#1c1c1c" stroke-width="1.7" stroke-linecap="butt"/>
<line x1="660" y1="959.5" x2="860" y2="1307.5" stroke="#1c1c1c" stroke-width="1.7" stroke-linecap="butt"/>
<line x1="660" y1="1010.4" x2="860" y2="1358.4" stroke="#1c1c1c" stroke-width="1.7" stroke-linecap="butt"/>
<line x1="660" y1="1061.3" x2="860" y2="1409.3" stroke="#1c1c1c" stroke-width="1.7" stroke-linecap="butt"/>
<line x1="660" y1="1112.2" x2="860" y2="1460.2" stroke="#1c1c1c" stroke-width="1.7" stroke-linecap="butt"/>
<line x1="660" y1="1163.1" x2="860" y2="1511.1" stroke="#1c1c1c" stroke-width="1.7" stroke-linecap="butt"/>
<line x1="660" y1="1214" x2="860" y2="1562" stroke="#1c1c1c" stroke-width="1.7" stroke-linecap="butt"/>
<line x1="660" y1="1264.9" x2="860" y2="1612.9" stroke="#1c1c1c" stroke-width="1.7" stroke-linecap="butt"/>
</g>
<polyline points="675,1191.3 675,907.2 849.6,1011.8 849.6,1296.6" fill="none" stroke="#1c1c1c" stroke-width="3" stroke-linejoin="round" stroke-linecap="round"/>
<line x1="675" y1="1191.3" x2="849.6" y2="1296.6" stroke="#1c1c1c" stroke-width="3" stroke-linecap="round"/>
<line x1="665" y1="827.5" x2="665" y2="1198" stroke="#1c1c1c" stroke-width="1.5" stroke-linecap="butt" stroke-dasharray="12 6"/>
<polyline points="665,828 665,827.2 670.3,824.6 670.8,828.2" fill="none" stroke="#1c1c1c" stroke-width="1.5" stroke-linejoin="round" stroke-linecap="round"/>
<line x1="671" y1="824.7" x2="851.4" y2="931.5" stroke="#1c1c1c" stroke-width="1.5" stroke-linecap="butt" stroke-dasharray="12 6"/>
<polyline points="851.4,931.5 852,938.5 858.8,941.8" fill="none" stroke="#1c1c1c" stroke-width="1.5" stroke-linejoin="round" stroke-linecap="round"/>
<line x1="858.8" y1="941.8" x2="858.8" y2="1312" stroke="#1c1c1c" stroke-width="1.5" stroke-linecap="butt" stroke-dasharray="12 6"/>
<line x1="665" y1="1198" x2="858.8" y2="1312" stroke="#1c1c1c" stroke-width="1.5" stroke-linecap="butt" stroke-dasharray="12 6"/>
<ellipse cx="712.1" cy="910.4" rx="2.6" ry="4.1" fill="#fff" stroke="#1c1c1c" stroke-width="1.8"/>
<ellipse cx="812.6" cy="970.4" rx="2.6" ry="4.1" fill="#fff" stroke="#1c1c1c" stroke-width="1.8"/>
<line x1="712.1" y1="819" x2="712.1" y2="906" stroke="#1c1c1c" stroke-width="1.5" stroke-linecap="round"/>
<line x1="813" y1="875.5" x2="813" y2="966" stroke="#1c1c1c" stroke-width="1.5" stroke-linecap="round"/>
<line x1="576.1" y1="807.8" x2="711.8" y2="886" stroke="#1c1c1c" stroke-width="1.5" stroke-linecap="butt"/>
<polygon points="664.9,859 682.1,861.2 676.5,865.7 675.4,872.8" fill="#1c1c1c" stroke="#1c1c1c" stroke-width="0.5"/>
<polygon points="711.8,886 694.6,883.8 700.2,879.3 701.3,872.2" fill="#1c1c1c" stroke="#1c1c1c" stroke-width="0.5"/>
<text transform="matrix(0.909 0.546 0.044 1.269 578.6 800.6)" font-size="24" text-anchor="start" fill="#1c1c1c">93 мм</text>
<line x1="712.9" y1="827.5" x2="812.6" y2="884.8" stroke="#1c1c1c" stroke-width="1.5" stroke-linecap="butt"/>
<polygon points="712.9,827.5 730.1,829.7 724.6,834.2 723.4,841.3" fill="#1c1c1c" stroke="#1c1c1c" stroke-width="0.5"/>
<polygon points="812.6,884.8 795.4,882.6 800.9,878.1 802.1,871" fill="#1c1c1c" stroke="#1c1c1c" stroke-width="0.5"/>
<text transform="matrix(0.924 0.578 0.044 1.269 730.6 818.2)" font-size="24" text-anchor="start" fill="#1c1c1c">384 мм</text>
<polyline points="993.4,936.2 913.5,891.7 816.3,968.3" fill="none" stroke="#1c1c1c" stroke-width="1.5" stroke-linejoin="miter" stroke-linecap="round"/>
<polygon points="816.3,968.3 824.7,953.1 826.9,960 833,963.7" fill="#1c1c1c" stroke="#1c1c1c" stroke-width="0.5"/>
<text transform="matrix(0.890 0.510 0.045 1.279 925.1 889.7)" font-size="24" text-anchor="start" fill="#1c1c1c">Ø5 мм</text>
<text transform="matrix(0.918 0.509 0.044 1.269 927.1 923.3)" font-size="21" text-anchor="start" fill="#1c1c1c">2 отв.</text>
<line x1="818.7" y1="974.1" x2="1027.4" y2="1087.4" stroke="#1c1c1c" stroke-width="1.5" stroke-linecap="round"/>
<line x1="851.1" y1="1009.8" x2="972" y2="1081.3" stroke="#1c1c1c" stroke-width="1.5" stroke-linecap="round"/>
<line x1="912.9" y1="1227" x2="912.9" y2="1333.3" stroke="#1c1c1c" stroke-width="1.5" stroke-linecap="round"/>
<line x1="912.9" y1="1333.3" x2="912.9" y2="1401.4" stroke="#1c1c1c" stroke-width="1.5" stroke-linecap="butt"/>
<polygon points="912.9,1333.3 919.6,1349.3 912.9,1346.7 906.2,1349.3" fill="#1c1c1c" stroke="#1c1c1c" stroke-width="0.5"/>
<polygon points="912.9,1401.4 906.2,1385.4 912.9,1388 919.6,1385.4" fill="#1c1c1c" stroke="#1c1c1c" stroke-width="0.5"/>
<line x1="965.8" y1="1081.3" x2="965.8" y2="1433.5" stroke="#1c1c1c" stroke-width="1.5" stroke-linecap="butt"/>
<polygon points="965.8,1081.3 972.5,1097.3 965.8,1094.7 959.1,1097.3" fill="#1c1c1c" stroke="#1c1c1c" stroke-width="0.5"/>
<polygon points="965.8,1433.5 959.1,1417.5 965.8,1420.1 972.5,1417.5" fill="#1c1c1c" stroke="#1c1c1c" stroke-width="0.5"/>
<line x1="1019.8" y1="1086.4" x2="1019.8" y2="1466.9" stroke="#1c1c1c" stroke-width="1.5" stroke-linecap="butt"/>
<polygon points="1019.8,1086.4 1026.5,1102.4 1019.8,1099.8 1013.1,1102.4" fill="#1c1c1c" stroke="#1c1c1c" stroke-width="0.5"/>
<polygon points="1019.8,1466.9 1013.1,1450.9 1019.8,1453.5 1026.5,1450.9" fill="#1c1c1c" stroke="#1c1c1c" stroke-width="0.5"/>
<text transform="matrix(0 -1.19 0.96 0.577 905.7 1270)" font-size="24" text-anchor="middle" fill="#1c1c1c">120 мм</text>
<text transform="matrix(0 -1.27 0.96 0.577 959.8 1245.2)" font-size="24" text-anchor="middle" fill="#1c1c1c">580 мм</text>
<text transform="matrix(0 -1.27 0.96 0.577 1011.9 1262.4)" font-size="24" text-anchor="middle" fill="#1c1c1c">634 мм</text>
<line x1="538.7" y1="1179.5" x2="1046.5" y2="1483" stroke="#1c1c1c" stroke-width="3" stroke-linecap="round"/>
<line x1="580.7" y1="1117.5" x2="663.9" y2="1164.2" stroke="#1c1c1c" stroke-width="1.5" stroke-linecap="butt"/>
<polygon points="663.9,1164.2 646.7,1162.2 652.2,1157.6 653.2,1150.5" fill="#1c1c1c" stroke="#1c1c1c" stroke-width="0.5"/>
<polygon points="675,1171.7 692.3,1173.5 686.8,1178.1 685.8,1185.2" fill="#1c1c1c" stroke="#1c1c1c" stroke-width="0.5"/>
<line x1="663.9" y1="1164.2" x2="689" y2="1179.3" stroke="#1c1c1c" stroke-width="1.5" stroke-linecap="butt"/>
<line x1="693.5" y1="1182" x2="708" y2="1190.6" stroke="#1c1c1c" stroke-width="1.5" stroke-linecap="butt"/>
<text transform="matrix(0.919 0.548 0.044 1.269 583.9 1106.8)" font-size="24" text-anchor="start" fill="#1c1c1c">20 мм</text>
<line x1="674.6" y1="1195.8" x2="674.6" y2="1251.5" stroke="#1c1c1c" stroke-width="1.5" stroke-linecap="round"/>
<line x1="849.7" y1="1297.9" x2="849.7" y2="1357" stroke="#1c1c1c" stroke-width="1.5" stroke-linecap="round"/>
<line x1="675" y1="1241.8" x2="849.7" y2="1343.2" stroke="#1c1c1c" stroke-width="1.5" stroke-linecap="butt"/>
<polygon points="675,1241.8 692.2,1244 686.6,1248.5 685.5,1255.6" fill="#1c1c1c" stroke="#1c1c1c" stroke-width="0.5"/>
<polygon points="849.7,1343.2 832.5,1341 838.1,1336.5 839.2,1329.4" fill="#1c1c1c" stroke="#1c1c1c" stroke-width="0.5"/>
<text transform="matrix(0.928 0.564 0.044 1.269 729.7 1263.3)" font-size="24" text-anchor="start" fill="#1c1c1c">530 мм</text>
<line x1="849.7" y1="1296.6" x2="923.5" y2="1339.5" stroke="#1c1c1c" stroke-width="1.5" stroke-linecap="round"/>
<clipPath id="lc"><rect x="809.8" y="1525.4" width="116.6" height="95.2" rx="7" ry="7"/></clipPath>
<g clip-path="url(#lc)">
<line x1="569.8" y1="1412.7" x2="809.8" y2="1672.7" stroke="#1c1c1c" stroke-width="1.25" stroke-linecap="butt"/>
<line x1="569.8" y1="1672.7" x2="809.8" y2="1412.7" stroke="#1c1c1c" stroke-width="1.25" stroke-linecap="butt"/>
<line x1="597.5" y1="1412.7" x2="837.5" y2="1672.7" stroke="#1c1c1c" stroke-width="1.25" stroke-linecap="butt"/>
<line x1="597.5" y1="1672.7" x2="837.5" y2="1412.7" stroke="#1c1c1c" stroke-width="1.25" stroke-linecap="butt"/>
<line x1="625.2" y1="1412.7" x2="865.2" y2="1672.7" stroke="#1c1c1c" stroke-width="1.25" stroke-linecap="butt"/>
<line x1="625.2" y1="1672.7" x2="865.2" y2="1412.7" stroke="#1c1c1c" stroke-width="1.25" stroke-linecap="butt"/>
<line x1="652.9" y1="1412.7" x2="892.9" y2="1672.7" stroke="#1c1c1c" stroke-width="1.25" stroke-linecap="butt"/>
<line x1="652.9" y1="1672.7" x2="892.9" y2="1412.7" stroke="#1c1c1c" stroke-width="1.25" stroke-linecap="butt"/>
<line x1="680.6" y1="1412.7" x2="920.6" y2="1672.7" stroke="#1c1c1c" stroke-width="1.25" stroke-linecap="butt"/>
<line x1="680.6" y1="1672.7" x2="920.6" y2="1412.7" stroke="#1c1c1c" stroke-width="1.25" stroke-linecap="butt"/>
<line x1="708.3" y1="1412.7" x2="948.3" y2="1672.7" stroke="#1c1c1c" stroke-width="1.25" stroke-linecap="butt"/>
<line x1="708.3" y1="1672.7" x2="948.3" y2="1412.7" stroke="#1c1c1c" stroke-width="1.25" stroke-linecap="butt"/>
<line x1="736" y1="1412.7" x2="976" y2="1672.7" stroke="#1c1c1c" stroke-width="1.25" stroke-linecap="butt"/>
<line x1="736" y1="1672.7" x2="976" y2="1412.7" stroke="#1c1c1c" stroke-width="1.25" stroke-linecap="butt"/>
<line x1="763.7" y1="1412.7" x2="1003.7" y2="1672.7" stroke="#1c1c1c" stroke-width="1.25" stroke-linecap="butt"/>
<line x1="763.7" y1="1672.7" x2="1003.7" y2="1412.7" stroke="#1c1c1c" stroke-width="1.25" stroke-linecap="butt"/>
<line x1="791.4" y1="1412.7" x2="1031.4" y2="1672.7" stroke="#1c1c1c" stroke-width="1.25" stroke-linecap="butt"/>
<line x1="791.4" y1="1672.7" x2="1031.4" y2="1412.7" stroke="#1c1c1c" stroke-width="1.25" stroke-linecap="butt"/>
<line x1="819.1" y1="1412.7" x2="1059.1" y2="1672.7" stroke="#1c1c1c" stroke-width="1.25" stroke-linecap="butt"/>
<line x1="819.1" y1="1672.7" x2="1059.1" y2="1412.7" stroke="#1c1c1c" stroke-width="1.25" stroke-linecap="butt"/>
<line x1="846.8" y1="1412.7" x2="1086.8" y2="1672.7" stroke="#1c1c1c" stroke-width="1.25" stroke-linecap="butt"/>
<line x1="846.8" y1="1672.7" x2="1086.8" y2="1412.7" stroke="#1c1c1c" stroke-width="1.25" stroke-linecap="butt"/>
<line x1="874.5" y1="1412.7" x2="1114.5" y2="1672.7" stroke="#1c1c1c" stroke-width="1.25" stroke-linecap="butt"/>
<line x1="874.5" y1="1672.7" x2="1114.5" y2="1412.7" stroke="#1c1c1c" stroke-width="1.25" stroke-linecap="butt"/>
<line x1="902.2" y1="1412.7" x2="1142.2" y2="1672.7" stroke="#1c1c1c" stroke-width="1.25" stroke-linecap="butt"/>
<line x1="902.2" y1="1672.7" x2="1142.2" y2="1412.7" stroke="#1c1c1c" stroke-width="1.25" stroke-linecap="butt"/>
<line x1="929.9" y1="1412.7" x2="1169.9" y2="1672.7" stroke="#1c1c1c" stroke-width="1.25" stroke-linecap="butt"/>
<line x1="929.9" y1="1672.7" x2="1169.9" y2="1412.7" stroke="#1c1c1c" stroke-width="1.25" stroke-linecap="butt"/>
<line x1="957.6" y1="1412.7" x2="1197.6" y2="1672.7" stroke="#1c1c1c" stroke-width="1.25" stroke-linecap="butt"/>
<line x1="957.6" y1="1672.7" x2="1197.6" y2="1412.7" stroke="#1c1c1c" stroke-width="1.25" stroke-linecap="butt"/>
</g>
<rect x="809.8" y="1525.4" width="116.6" height="95.2" rx="7" ry="7" fill="none" stroke="#1c1c1c" stroke-width="1.7"/>
<text x="947" y="1552.2" font-size="28.6" fill="#1c1c1c" style="stroke-width:0.15px" textLength="251.5" lengthAdjust="spacingAndGlyphs">Зона подключения</text>
<text x="947" y="1585" font-size="28.6" fill="#1c1c1c" style="stroke-width:0.15px" textLength="219" lengthAdjust="spacingAndGlyphs">к водопроводу и</text>
<text x="947" y="1617.8" font-size="28.6" fill="#1c1c1c" style="stroke-width:0.15px" textLength="172" lengthAdjust="spacingAndGlyphs">канализации</text>
</svg>
</body></html>
